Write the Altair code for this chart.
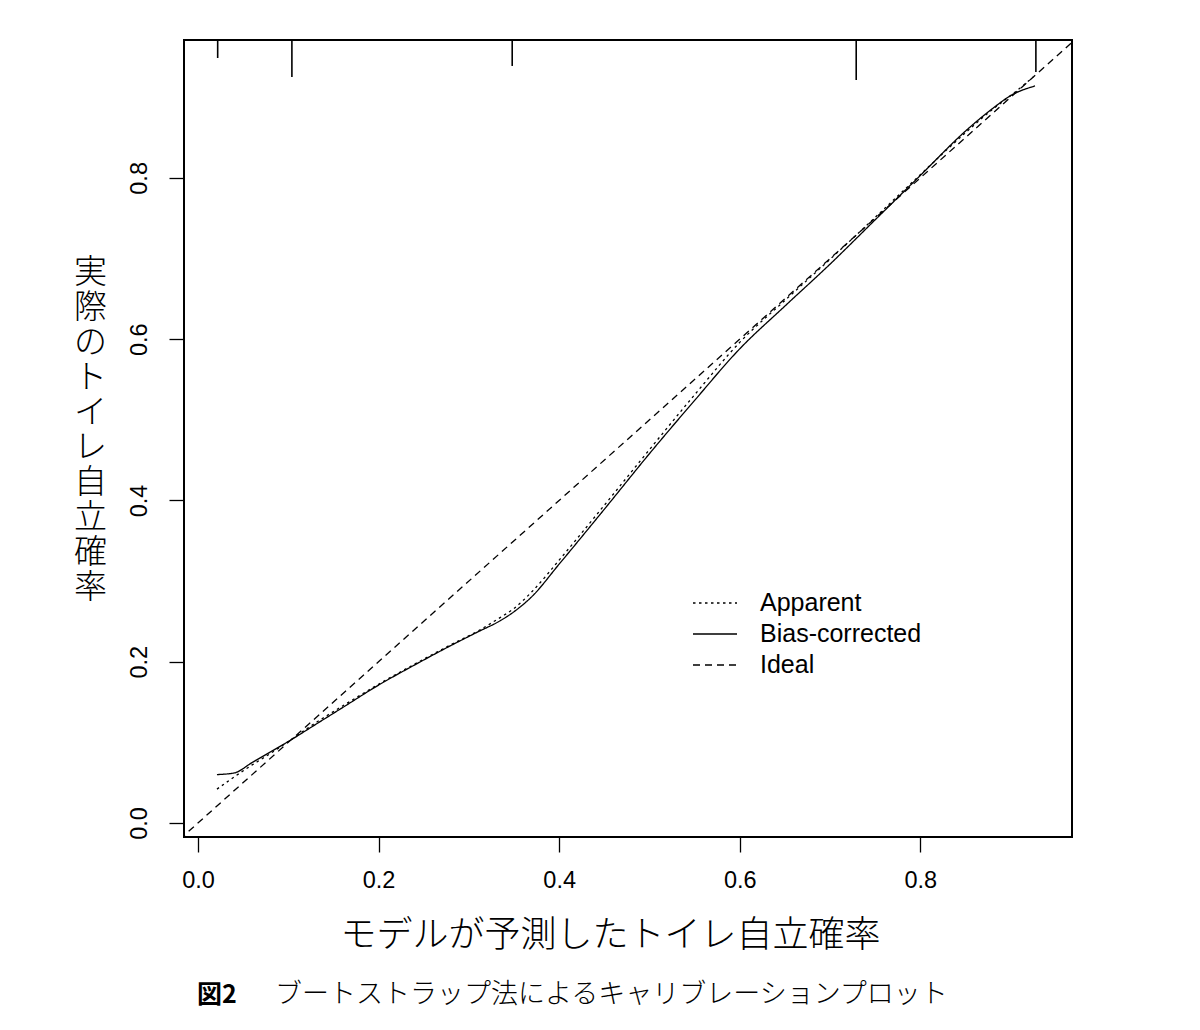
import altair as alt
import pandas as pd

# ---------------- data ----------------
apparent_x = [0.021, 0.04, 0.06, 0.08, 0.10, 0.13, 0.16, 0.20, 0.24, 0.28, 0.31,
              0.335, 0.35, 0.37, 0.40, 0.45, 0.50, 0.55, 0.60, 0.65, 0.70, 0.75,
              0.80, 0.85, 0.88, 0.90, 0.925]
apparent_y = [0.042, 0.057, 0.072, 0.086, 0.101, 0.124, 0.145, 0.172, 0.197, 0.221, 0.238,
              0.255, 0.266, 0.287, 0.326, 0.394, 0.463, 0.531, 0.596, 0.648, 0.699, 0.751,
              0.804, 0.856, 0.885, 0.902, 0.925]

bias_x = [0.021, 0.04, 0.06, 0.08, 0.10, 0.13, 0.16, 0.20, 0.24, 0.28, 0.31,
          0.335, 0.35, 0.37, 0.40, 0.45, 0.50, 0.55, 0.60, 0.65, 0.70, 0.75,
          0.80, 0.85, 0.88, 0.90, 0.927]
bias_y = [0.060, 0.062, 0.075, 0.088, 0.101, 0.122, 0.143, 0.171, 0.196, 0.220, 0.237,
          0.251, 0.262, 0.281, 0.321, 0.389, 0.458, 0.524, 0.588, 0.641, 0.693, 0.748,
          0.803, 0.858, 0.886, 0.902, 0.914]

ideal_x = [-0.05, 1.0]
ideal_y = [-0.05, 1.0]

rug_x = [0.0218, 0.104, 0.348, 0.729, 0.928]
rug_len = [0.0223, 0.0459, 0.0322, 0.0496, 0.0397]

x_ticks = [0.0, 0.2, 0.4, 0.6, 0.8]
y_ticks = [0.0, 0.2, 0.4, 0.6, 0.8]

series_names = ["Apparent", "Bias-corrected", "Ideal"]
series_dash = [[2.5, 3.5], [1, 0], [7, 5]]

x_title = "モデルが予測したトイレ自立確率"
y_title = "実際のトイレ自立確率"
caption_label = "図2"
caption_text = "ブートストラップ法によるキャリブレーションプロット"

X_DOMAIN = [-0.0155, 0.968]
Y_DOMAIN = [-0.0174, 0.971]

W, H = 888, 797
CJK = "Noto Sans CJK JP"
LAT = "Liberation Sans"

# legend layout (pixels inside the plot area)
LEG_X0, LEG_X1, LEG_TX, LEG_Y0, LEG_DY = 509, 553, 576, 563, 31

# ---------------- tables ----------------
rows = []
for name, xs, ys in [("Apparent", apparent_x, apparent_y),
                     ("Bias-corrected", bias_x, bias_y),
                     ("Ideal", ideal_x, ideal_y)]:
    for i, (a, b) in enumerate(zip(xs, ys)):
        rows.append({"series": name, "x": a, "y": b, "ord": i})
lines_df = pd.DataFrame(rows)

rug_df = pd.DataFrame({"x": rug_x,
                       "y": [Y_DOMAIN[1]] * len(rug_x),
                       "y2": [Y_DOMAIN[1] - h for h in rug_len]})

xscale = alt.Scale(domain=X_DOMAIN, nice=False, zero=False)
yscale = alt.Scale(domain=Y_DOMAIN, nice=False, zero=False)

lines = alt.Chart(lines_df).mark_line(color="black", strokeWidth=1.3, clip=True,
                                      interpolate="monotone").encode(
    x=alt.X("x:Q", scale=xscale,
            axis=alt.Axis(values=x_ticks, format=".1f", title=x_title,
                          tickSize=15, labelPadding=16, labelFontSize=23.5, labelFont=LAT,
                          titleFont=CJK, titleFontSize=36, titleFontWeight=300,
                          titleX=426, titleY=98, titleAlign="center", titleBaseline="middle",
                          titleColor="black")),
    y=alt.Y("y:Q", scale=yscale,
            axis=alt.Axis(values=y_ticks, format=".1f", title=list(y_title),
                          tickSize=15, labelPadding=18, labelFontSize=23.5, labelFont=LAT,
                          labelAngle=270, labelAlign="center", labelBaseline="bottom",
                          titleFont=CJK, titleFontSize=33, titleFontWeight=300,
                          titleAngle=0, titleX=-94, titleY=216, titleAlign="center",
                          titleBaseline="top", titleLineHeight=35, titleColor="black")),
    strokeDash=alt.StrokeDash(
        "series:N",
        scale=alt.Scale(domain=series_names, range=series_dash),
        legend=None),
    detail="series:N",
    order="ord:Q",
)

rug = alt.Chart(rug_df).mark_rule(color="black", strokeWidth=1.6).encode(
    x=alt.X("x:Q", scale=xscale),
    y=alt.Y("y:Q", scale=yscale),
    y2="y2:Q",
)

# legend (drawn like R's legend box without border)
legend_layers = []
for i, (name, dash) in enumerate(zip(series_names, series_dash)):
    ly = LEG_Y0 + LEG_DY * i
    one = pd.DataFrame({"t": [name]})
    legend_layers.append(
        alt.Chart(one).mark_rule(color="black", strokeWidth=1.3, strokeDash=dash).encode(
            x=alt.value(LEG_X0), x2=alt.value(LEG_X1), y=alt.value(ly)))
    legend_layers.append(
        alt.Chart(one).mark_text(font=LAT, fontSize=25, align="left", baseline="middle",
                                 color="black").encode(
            text="t:N", x=alt.value(LEG_TX), y=alt.value(ly)))

cap1 = alt.Chart(pd.DataFrame({"t": [caption_label]})).mark_text(
    font=CJK, fontSize=25, fontWeight="bold", align="left", baseline="middle", color="black"
).encode(text="t:N", x=alt.value(13), y=alt.value(955))

cap2 = alt.Chart(pd.DataFrame({"t": [caption_text]})).mark_text(
    font=CJK, fontSize=27, fontWeight=300, align="left", baseline="middle", color="black"
).encode(text="t:N", x=alt.value(91), y=alt.value(955))

chart = alt.layer(lines, rug, *legend_layers, cap1, cap2).properties(
    width=W, height=H,
    autosize=alt.AutoSizeParams(type="none"),
    padding={"left": 176, "top": 32, "right": 100, "bottom": 185},
    background="white",
).configure_view(
    stroke="black", strokeWidth=2
).configure_axis(
    domain=False, grid=False, tickColor="black", tickWidth=1.3, labelColor="black"
)

chart.save("out.html", embed_options={"renderer": "svg", "actions": False})
